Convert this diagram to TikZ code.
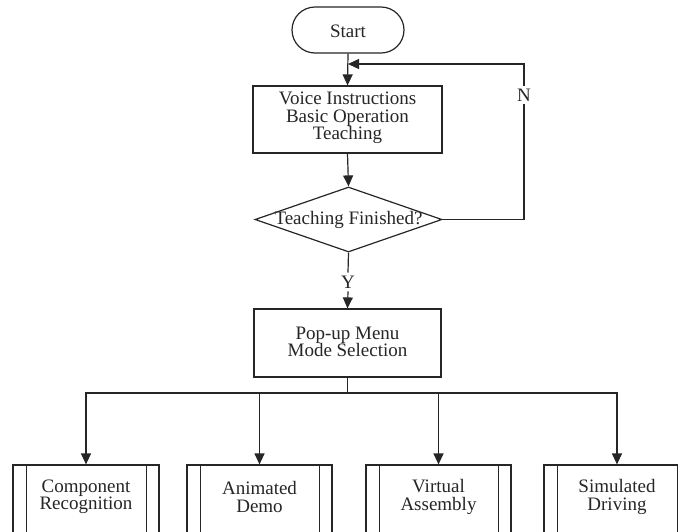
\documentclass[tikz,border=0pt]{standalone}
\usepackage{fontspec}
\setmainfont{Liberation Serif}
\usetikzlibrary{arrows.meta,shapes.geometric}
\begin{document}
\begin{tikzpicture}[x=1pt,y=-1pt,
  font=\fontsize{19}{17.5}\selectfont,
  line/.style={draw=black!85, line width=1.2pt},
  arr/.style={line, -{Triangle[length=11pt,width=10pt]}},
  box/.style={line, rectangle, inner sep=0pt, align=center},
  lab/.style={align=center, inner sep=0pt, text=black!85},
  proc/.style={line, rectangle, minimum width=146pt, minimum height=72pt, inner sep=0pt}]
\fill[white] (0,0) rectangle (678,531);
\clip (0,0) rectangle (678,531);
% start
\node[line, rounded corners=23pt, minimum width=112pt, minimum height=46pt, inner sep=0pt] (start) at (348,30) {};
\node[lab] (starttxt) at (348,31) {Start};
% voice box
\node[box, minimum width=189pt, minimum height=67pt] (voice) at (347.5,119.5) {};
\node[lab] (voicetxt) at (347.5,118) {Voice Instructions\\Basic Operation\\Teaching};
% decision
\node[line, diamond, minimum width=187pt, minimum height=65pt, inner sep=0pt] (dec) at (348.5,219.5) {};
\node[lab] (dectxt) at (348.5,220) {Teaching Finished?};
% popup
\node[box, minimum width=187pt, minimum height=68pt] (pop) at (347.5,343) {};
\node[lab] (poptxt) at (347.5,342) {Pop-up Menu\\Mode Selection};
% labels
\node[lab, fill=white, inner sep=3pt] (ylab) at (348,282) {Y};
\node[lab, fill=white, inner sep=3pt] (nlab) at (524,95) {N};
\coordinate (loopin) at (348,64);
\coordinate (bus) at (347.5,393);
% bottom boxes
\node[proc] (b1) at (86,501) {};
\node[proc, minimum width=145pt] (b2) at (259.5,501) {};
\node[proc, minimum width=145pt] (b3) at (438.5,501) {};
\node[proc] (b4) at (617,501) {};
\foreach \b in {b1,b2,b3,b4}{
  \draw[line] ([xshift=14pt]\b.north west) -- ([xshift=14pt]\b.south west);
  \draw[line] ([xshift=-13pt]\b.north east) -- ([xshift=-13pt]\b.south east);
}
\node[lab] (t1) at (86,497) {Component\\Recognition};
\node[lab] (t2) at (259.5,497) {Animated\\Demo};
\node[lab] (t3) at (438.5,497) {Virtual\\Assembly};
\node[lab] (t4) at (617,497) {Simulated\\Driving};
% connectors
\draw[arr] (start.south) -- (voice.north);
\draw[arr] (voice.south) -- (dec.north);
\draw[line] (dec.south) -- (ylab.north);
\draw[arr] (ylab.south) -- (pop.north);
\draw[line] (dec.east) -| (nlab.south);
\draw[arr] (nlab.north) |- (loopin);
\draw[line] (pop.south) -- (bus);
\draw[arr] (bus) -| (b1.north);
\draw[arr] (bus) -| (b2.north);
\draw[arr] (bus) -| (b3.north);
\draw[arr] (bus) -| (b4.north);
\end{tikzpicture}
\end{document}
